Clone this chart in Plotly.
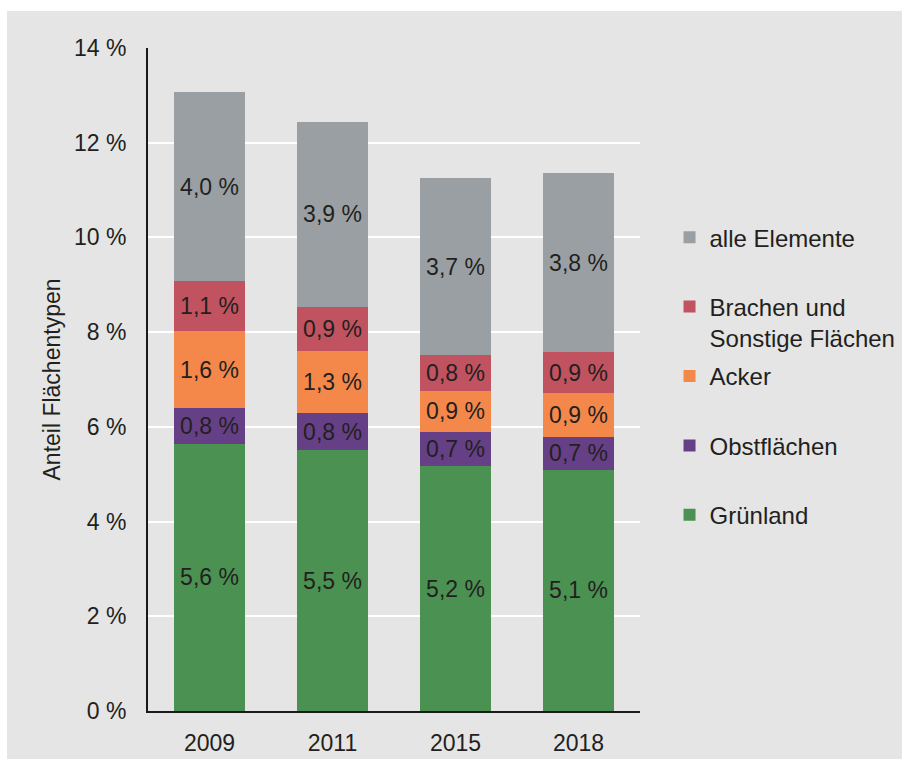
import plotly.graph_objects as go

years = ["2009", "2011", "2015", "2018"]

gruenland = [5.64, 5.51, 5.17, 5.09]
obstflaechen = [0.76, 0.78, 0.72, 0.70]
acker = [1.62, 1.31, 0.87, 0.92]
brachen = [1.06, 0.93, 0.76, 0.87]
alle_elemente = [3.99, 3.91, 3.73, 3.78]

series = [
    ("Grünland", gruenland, "#4a9152"),
    ("Obstflächen", obstflaechen, "#664086"),
    ("Acker", acker, "#f4884b"),
    ("Brachen und<br>Sonstige Flächen", brachen, "#c0535f"),
    ("alle Elemente", alle_elemente, "#9a9fa3"),
]

TEXT = "#231f20"
BG = "#e4e5e4"

fig = go.Figure()

for i, (name, values, color) in enumerate(series):
    # pad single-line entries to two lines so legend rows are evenly spaced
    label = name if "<br>" in name else name + "<br> "
    fig.add_trace(go.Bar(
        x=years,
        y=values,
        name=label,
        legendgroup=name,
        legendrank=len(series) - i,
        marker=dict(color=color, line_width=0),
        texttemplate="%{y:.1f} %",
        textposition="inside",
        insidetextanchor="middle",
        constraintext="none",
        textangle=0,
        textfont=dict(size=23, color=TEXT),
    ))

# grey card with thin white border on top and left
fig.add_shape(
    type="rect", xref="paper", yref="paper",
    x0=-0.2866, x1=1.6, y0=-0.2, y1=1.0558,
    fillcolor=BG, line_width=0, layer="below",
)

fig.update_layout(
    width=902,
    height=759,
    margin=dict(l=148, r=262, t=48, b=48, autoexpand=False),
    paper_bgcolor="white",
    plot_bgcolor=BG,
    barmode="stack",
    bargap=0.42,
    separators=", ",
    font=dict(family="Liberation Sans, Arial, sans-serif", size=23, color=TEXT),
    legend=dict(
        traceorder="grouped",
        tracegroupgap=4,
        valign="top",
        x=1.06,
        xanchor="left",
        y=0.748,
        yanchor="top",
        bgcolor="rgba(0,0,0,0)",
        font=dict(size=24, color=TEXT),
    ),
    yaxis=dict(
        range=[0, 14],
        dtick=2,
        ticksuffix=" %",
        showgrid=True,
        gridcolor="white",
        gridwidth=2,
        showline=True,
        linecolor="#1a1a1a",
        linewidth=2,
        zeroline=False,
        ticks="",
        ticklabelstandoff=15,
        automargin=False,
        title=dict(text="Anteil Flächentypen", font=dict(size=23), standoff=7),
    ),
    xaxis=dict(
        showline=True,
        linecolor="#1a1a1a",
        linewidth=2,
        ticks="",
        ticklabelstandoff=10,
        automargin=False,
        showgrid=False,
    ),
)

fig.write_html(
    "out.html",
    config={"displayModeBar": False},
    post_script="document.body.style.margin='0';",
)
